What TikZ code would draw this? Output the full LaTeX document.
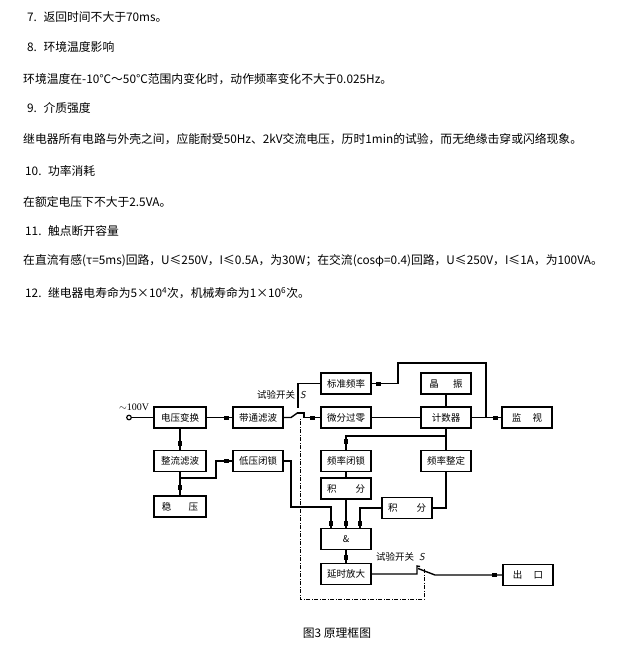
\documentclass[tikz,border=0pt]{standalone}
\usepackage{fontspec}
\setmainfont{Noto Sans CJK SC}
\newfontfamily\latinserif{Liberation Serif}
\begin{document}
\begin{tikzpicture}[x=1pt,y=-1pt,
  txt/.style={anchor=west,inner sep=0pt,font=\fontsize{11.8}{13}\selectfont},
  blk/.style={draw,line width=1.6pt,minimum width=50pt,minimum height=21pt,inner sep=0pt,font=\fontsize{9.5}{11}\selectfont},
  wire/.style={line width=1.4pt},
  mkh/.style={fill,rectangle,minimum width=5pt,minimum height=4pt,inner sep=0pt},
  mkv/.style={fill,rectangle,minimum width=4pt,minimum height=5pt,inner sep=0pt},
  lbl/.style={inner sep=0pt,font=\fontsize{9.5}{11}\selectfont},
  dd/.style={line width=0.9pt,dash pattern=on 4pt off 1.5pt on 1pt off 1.5pt}]
\useasboundingbox (0,0) rectangle (636,646);
% ---- text ----
\node[txt] (t7) at (27,16.7) {7.\hspace{0.55em}返回时间不大于70ms。};
\node[txt] (t8) at (27,46.7) {8.\hspace{0.55em}环境温度影响};
\node[txt] (p8) at (23,79) {环境温度在-10℃～50℃范围内变化时，动作频率变化不大于0.025Hz。};
\node[txt] (t9) at (27,108) {9.\hspace{0.55em}介质强度};
\node[txt] (p9) at (23,139.3) {继电器所有电路与外壳之间，应能耐受50Hz、2kV交流电压，历时1min的试验，而无绝缘击穿或闪络现象。};
\node[txt] (t10) at (25,171) {10.\hspace{0.55em}功率消耗};
\node[txt] (p10) at (23,202.3) {在额定电压下不大于2.5VA。};
\node[txt] (t11) at (25,231) {11.\hspace{0.55em}触点断开容量};
\node[txt] (p11) at (23,261) {在直流有感(τ=5ms)回路，U≤250V，I≤0.5A，为30W；在交流(cosφ=0.4)回路，U≤250V，I≤1A，为100VA。};
\node[txt] (t12) at (25,293.3) {12.\hspace{0.55em}继电器电寿命为5×10\textsuperscript{4}次，机械寿命为1×10\textsuperscript{6}次。};
% ---- blocks ----
\node[blk,minimum width=52pt] (vt) at (180,417.5) {电压变换};
\node[blk,minimum width=52pt] (zl) at (180,461) {整流滤波};
\node[blk,minimum width=52pt] (wy) at (180,506.5) {稳\hspace{1.8em}压};
\node[blk] (dt) at (258,417.5) {带通滤波};
\node[blk] (dy) at (258,461) {低压闭锁};
\node[blk] (bz) at (346,383.5) {标准频率};
\node[blk] (wf) at (346,417.5) {微分过零};
\node[blk] (jz) at (446,383.5) {晶\hspace{1.5em}振};
\node[blk] (js) at (446,417.5) {计数器};
\node[blk] (jk) at (527,417.5) {监\hspace{1.2em}视};
\node[blk] (pb) at (346,461) {频率闭锁};
\node[blk] (jf1) at (346,488.5) {积\hspace{2em}分};
\node[blk] (pz) at (446,461) {频率整定};
\node[blk] (jf2) at (407,508) {积\hspace{2em}分};
\node[blk] (and) at (346,539) {\&};
\node[blk] (ys) at (346,574) {延时放大};
\node[blk] (ck) at (528,575) {出\hspace{1.2em}口};
% ---- input ----
\node[circle,draw,line width=1.2pt,inner sep=1.6pt] (in) at (129,417.5) {};
\node[inner sep=0pt,font=\latinserif\fontsize{10}{11}\selectfont] (inl) at (134,407) {$\sim$100V};
\draw[wire] (in) -- (vt);
% ---- connectors left ----
\draw[wire] (vt) -- (dt);
\node[mkh] at (226,417.5) {};
\draw[wire] (vt) -- (zl);
\node[mkv] at (180,443) {};
\draw[wire] (zl) -- (wy);
\node[mkv] at (180,487) {};
\coordinate (b1) at (180,478);
\draw[wire] (b1) -- (216,478) |- (dy.west);
\node[mkh] at (226,461) {};
\draw[wire] (dy.east) -| (291,507) -| ([xshift=-15pt]and.north);
% ---- top switch ----
\coordinate (s1a) at (291,417.5);
\coordinate (s1p) at (298,412.5);
\coordinate (s1u) at (298,408);
\coordinate (s1r) at (297,413);
\draw[wire] (dt.east) -- (s1a) -- (s1p);
\draw[wire] (bz.west) -| (s1u);
\draw[wire] (s1r) -- (304,413) |- (wf.west);
\node[mkh] at (312,417.5) {};
\node[lbl] (sw1l) at (276,395) {试验开关};
\node[inner sep=0pt,font=\sffamily\itshape\fontsize{10}{11}\selectfont] (sw1s) at (303,395) {S};
% ---- right part ----
\draw[wire] (bz.east) -- (398,383.5) |- (486,363) -- (486,417.5);
\node[mkh] at (378,383.5) {};
\draw[wire] (wf) -- (js);
\draw[wire] (jz) -- (js);
\draw[wire] (js) -- (jk);
\node[mkh] at (495,417.5) {};
\draw[wire] (js) -- (pz);
\coordinate (b2) at (446,436);
\draw[wire] (b2) -| (pb.north);
\node[mkv] at (346,441) {};
\draw[wire] (pb) -- (jf1);
\draw[wire] (jf1) -- (and);
\draw[wire] (pz.south) |- (jf2.east);
\draw[wire] (jf2.west) -| ([xshift=14pt]and.north);
\node[mkv] at (331,523) {};
\node[mkv] at (346,523) {};
\node[mkv] at (360,523) {};
\draw[wire] (and) -- (ys);
\node[mkv] at (346,557) {};
% ---- bottom switch ----
\coordinate (s2p) at (417,566);
\coordinate (s2b) at (418,568.5);
\coordinate (s2e) at (435,575);
\draw[wire] (ys.east) -| (s2p) -- (420,566.5);
\draw[wire] (s2b) -- (s2e) -- (ck.west);
\node[mkh] at (494,575) {};
\node[lbl] (sw2l) at (395,557) {试验开关};
\node[inner sep=0pt,font=\sffamily\itshape\fontsize{10}{11}\selectfont] (sw2s) at (422,557) {S};
% ---- dash-dot linkage ----
\draw[dd] (424,569) -- (424,599) -- (300,599) -- (300,419);
% ---- caption ----
\node[inner sep=0pt,font=\fontsize{11.8}{13}\selectfont] (cap) at (337,633) {图3 原理框图};
\end{tikzpicture}
\end{document}
